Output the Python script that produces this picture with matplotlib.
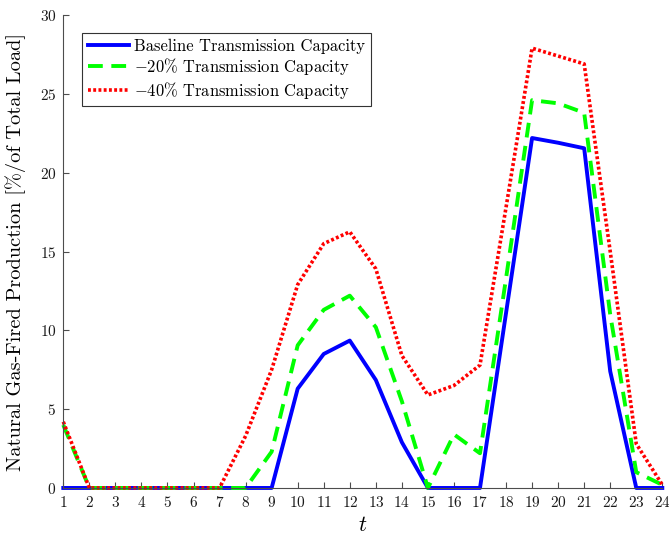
import numpy as np
import matplotlib
matplotlib.use('Agg')
import matplotlib.pyplot as plt

plt.rcParams['font.family'] = 'serif'
plt.rcParams['font.serif'] = ['cmr10']
plt.rcParams['mathtext.fontset'] = 'cm'
plt.rcParams['axes.formatter.use_mathtext'] = True

# hourly gas-fired production, % of total load
hours = np.arange(1, 25)
baseline = [0, 0, 0, 0, 0, 0, 0, 0, 0, 6.3, 8.5, 9.35, 6.85, 2.9, 0, 0,
            0, 11.1, 22.2, 21.9, 21.55, 7.4, 0, 0]
minus20 = [4.0, 0, 0, 0, 0, 0, 0, 0, 2.3, 9.05, 11.3, 12.2, 10.2, 5.5, 0, 3.4,
           2.2, 13.3, 24.6, 24.4, 23.8, 11.0, 1.0, 0.2]
minus40 = [4.2, 0, 0, 0, 0, 0, 0, 3.3, 7.5, 12.9, 15.5, 16.25, 13.9, 8.4, 5.9, 6.5,
           7.8, 17.8, 27.9, 27.4, 26.9, 15.0, 2.8, 0.2]
labels = ['Baseline Transmission Capacity',
          r'$-$20% Transmission Capacity',
          r'$-$40% Transmission Capacity']

fig = plt.figure(figsize=(6.69, 5.38), dpi=100)
ax = fig.add_axes([0.0946, 0.093, 0.8954, 0.879])

ax.plot(hours, baseline, color=(0, 0, 1), lw=2.8, label=labels[0], clip_on=False)
ax.plot(hours, minus20, color=(0, 1, 0), lw=2.8, linestyle=(0, (3.8, 2.2)),
        label=labels[1], clip_on=False)
ax.plot(hours, minus40, color=(1, 0, 0), lw=2.6, linestyle=(0, (0.8, 0.65)),
        label=labels[2], clip_on=False)

ax.set_xlim(1, 24)
ax.set_ylim(0, 30)
ax.set_xticks(hours)
ax.set_yticks([0, 5, 10, 15, 20, 25, 30])

for s in ['top', 'right']:
    ax.spines[s].set_visible(False)
for s in ['left', 'bottom']:
    ax.spines[s].set_color('#4d4d4d')
    ax.spines[s].set_linewidth(0.8)
ax.tick_params(direction='in', length=4.5, width=0.8, color='#4d4d4d',
               labelsize=11, labelcolor='#1a1a1a', pad=5)

ax.set_xlabel(r'$t$', fontsize=16, labelpad=4)
ax.set_ylabel('Natural Gas-Fired Production [%/of Total Load]', fontsize=14.7, labelpad=10)

leg = ax.legend(loc='upper left', bbox_to_anchor=(0.031, 0.963), borderaxespad=0,
                fontsize=11.9, fancybox=False, framealpha=1, edgecolor='#333333',
                handlelength=2.5, handletextpad=0.3, labelspacing=0.15, borderpad=0.35)
leg.get_frame().set_linewidth(0.8)

fig.savefig('out.png', dpi=100)
